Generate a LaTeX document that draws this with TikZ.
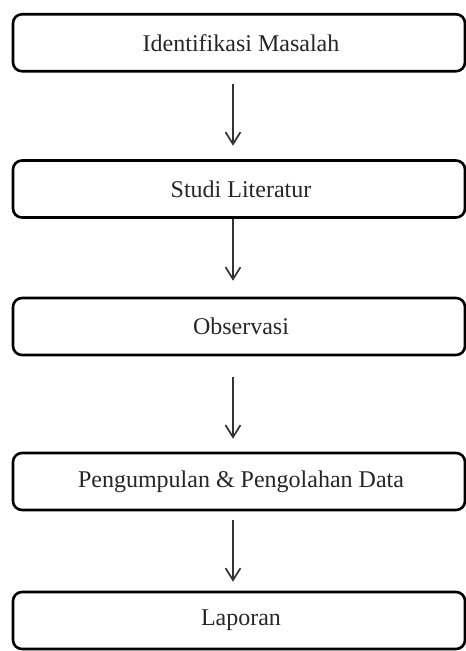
\documentclass[tikz,border=0pt]{standalone}
\usepackage{fontspec}
\setmainfont{Liberation Serif}
\usetikzlibrary{arrows.meta}
\begin{document}
\begin{tikzpicture}[x=1pt,y=-1pt,
  stepbox/.style={draw=black, line width=2.6pt, rounded corners=9pt,
    minimum width=452pt, minimum height=57pt, inner sep=0pt,
    font=\fontsize{24}{28}\selectfont, text=black!85},
  arr/.style={draw=black!80, line width=1.7pt,
    -{Straight Barb[length=12pt, width=15pt, line width=1.7pt]}}]
\useasboundingbox (0,0) rectangle (466,651);
\node[stepbox] (b1) at (239,42.75) {\hspace*{4pt}Identifikasi Masalah};
\node[stepbox] (b2) at (239,189) {\hspace*{4pt}Studi Literatur};
\node[stepbox] (b3) at (239,326.5) {\hspace*{4pt}Observasi};
\node[stepbox] (b4) at (239,481.5) {\hspace*{4pt}Pengumpulan \& Pengolahan Data};
\node[stepbox] (b5) at (239,620.5) {\hspace*{4pt}Laporan};
\draw[arr, shorten <=11.75pt, shorten >=13.5pt] ([xshift=-6pt]b1.south) -- ([xshift=-6pt]b2.north);
\draw[arr, shorten <=0pt, shorten >=16pt] ([xshift=-6pt]b2.south) -- ([xshift=-6pt]b3.north);
\draw[arr, shorten <=21pt, shorten >=13pt] ([xshift=-6pt]b3.south) -- ([xshift=-6pt]b4.north);
\draw[arr, shorten <=9pt, shorten >=9pt] ([xshift=-6pt]b4.south) -- ([xshift=-6pt]b5.north);
\end{tikzpicture}
\end{document}
